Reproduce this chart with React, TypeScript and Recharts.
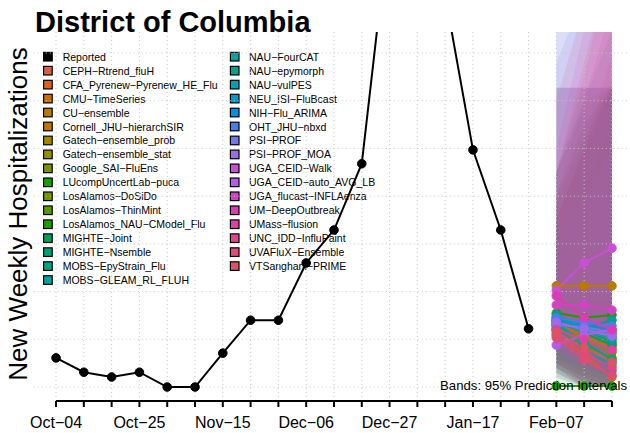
import React from 'react';
import { ComposedChart, Line, Area, XAxis, YAxis, ReferenceLine } from 'recharts';

const FONT = '"Liberation Sans", Arial, Helvetica, sans-serif';

const weeks = [
  'Oct−04', 'Oct−11', 'Oct−18', 'Oct−25', 'Nov−01', 'Nov−08', 'Nov−15', 'Nov−22', 'Nov−29',
  'Dec−06', 'Dec−13', 'Dec−20', 'Dec−27', 'Jan−03', 'Jan−10', 'Jan−17', 'Jan−24', 'Jan−31',
  'Feb−07', 'Feb−14', 'Feb−21',
];

const reported = [16.1, 13.1, 12.1, 13.1, 10, 10, 17.1, 24, 24, 36, 42.9, 56.8, 107.7, 100, 92.1, 59.7, 42.9, 22.2];

const models = [
  'CEPH−Rtrend_fluH', 'CFA_Pyrenew−Pyrenew_HE_Flu', 'CMU−TimeSeries', 'CU−ensemble',
  'Cornell_JHU−hierarchSIR', 'Gatech−ensemble_prob', 'Gatech−ensemble_stat', 'Google_SAI−FluEns',
  'LUcompUncertLab−puca', 'LosAlamos−DoSiDo', 'LosAlamos−ThinMint', 'LosAlamos_NAU−CModel_Flu',
  'MIGHTE−Joint', 'MIGHTE−Nsemble', 'MOBS−EpyStrain_Flu', 'MOBS−GLEAM_RL_FLUH',
  'NAU−FourCAT', 'NAU−epymorph', 'NAU−vulPES', 'NEU_ISI−FluBcast',
  'NIH−Flu_ARIMA', 'OHT_JHU−nbxd', 'PSI−PROF', 'PSI−PROF_MOA',
  'UGA_CEID−Walk', 'UGA_CEID−auto_AVG_LB', 'UGA_flucast−INFLAenza', 'UM−DeepOutbreak',
  'UMass−flusion', 'UNC_IDD−InfluPaint', 'UVAFluX−Ensemble', 'VTSanghani−PRIME',
];

const colors = [
  '#D95F4A', '#D5651E', '#C96F00', '#B97A00',
  '#C07500', '#A68400', '#949000', '#7E9300',
  '#17A000', '#6F9500', '#559A00', '#1E9C00',
  '#00A05A', '#00A16D', '#00A384', '#00A49C',
  '#00A3A3', '#009F8F', '#00A0B5', '#0097D5',
  '#008FE3', '#4A7DEB', '#7675EA', '#9B6BEA',
  '#C94FD6', '#B55BE5', '#D342C5', '#DA3DB3',
  '#DE41A2', '#E1468A', '#DF4C75', '#DB5463',
];

// forecast weeks: Feb-07, Feb-14, Feb-21
const median = [
  [22.0, 18.8, 15.2], [20.9, 16.7, 12.1], [23.0, 20.9, 18.8], [31.2, 31.2, 31.2],
  [24.0, 22.0, 19.9], [22.4, 20.3, 18.2], [23.6, 22.0, 20.3], [24.5, 22.8, 21.1],
  [10.2, 10.2, 10.2], [22.8, 19.9, 17.3], [22.0, 18.8, 16.1], [25.5, 24.5, 25.1],
  [24.0, 21.3, 18.8], [24.5, 22.0, 19.4], [23.0, 19.4, 15.7], [23.6, 18.8, 13.4],
  [22.0, 18.2, 14.6], [25.1, 22.4, 24.0], [23.6, 21.5, 20.3], [23.0, 22.4, 21.3],
  [24.0, 23.0, 22.0], [24.5, 23.6, 22.8], [23.0, 22.6, 21.3], [23.6, 22.0, 20.7],
  [30.3, 36.0, 39.1], [18.8, 20.9, 22.0], [27.2, 27.2, 26.1], [29.1, 24.5, 22.0],
  [22.0, 19.9, 17.8], [20.9, 17.3, 14.0], [20.3, 15.7, 12.5], [21.5, 18.2, 15.2],
];

const lower = [
  [14, 10, 10], [15, 11, 10], [16, 13, 11], [22, 18, 15],
  [14, 11, 10], [15, 12, 10], [16, 12, 10], [17, 13, 11],
  [10, 10, 10], [14, 11, 10], [13, 10, 10], [16, 14, 12],
  [15, 12, 10], [15, 12, 10], [14, 10, 10], [15, 11, 10],
  [13, 10, 10], [12, 10, 10], [16, 13, 11], [17, 14, 12],
  [14, 11, 10], [18, 16, 14], [18, 15, 13], [17, 14, 12],
  [20, 18, 16], [12, 10, 10], [18, 15, 12], [20, 15, 12],
  [15, 12, 10], [14, 10, 10], [13, 10, 10], [15, 11, 10],
];

const upper = [
  [45, 58, 72.7], [28, 28, 28], [40, 55, 70], [50, 62, 72.7],
  [72.7, 72.7, 72.7], [45, 60, 72.7], [48, 62, 72.7], [40, 52, 65],
  [55, 68, 72.7], [50, 65, 72.7], [55, 70, 72.7], [50, 65, 72.7],
  [45, 60, 72], [48, 62, 72.7], [42, 55, 68], [40, 50, 60],
  [55, 72.7, 72.7], [72.7, 72.7, 72.7], [55, 70, 85], [45, 60, 75],
  [88, 100, 120], [40, 50, 60], [78, 92, 110], [72.7, 72.7, 72.7],
  [86, 110, 150], [72.7, 72.7, 72.7], [60, 85, 110], [55, 75, 100],
  [50, 70, 90], [70, 90, 120], [45, 60, 80], [55, 78, 100],
];

const gridY = [10, 20, 30, 40, 50, 60, 70, 80];
const tickIdx = weeks.map((_, i) => i);
const FIRST_FC = 18;

const table = weeks.map((w, i) => {
  const row: any = { x: i, week: w };
  if (i < reported.length) row.reported = reported[i];
  const k = i - FIRST_FC;
  if (k >= 0) {
    models.forEach((m, j) => {
      row['m' + j] = median[j][k];
      row['b' + j] = [lower[j][k], upper[j][k]];
    });
  }
  return row;
});

const legendItems = [{ name: 'Reported', color: '#000000' }].concat(
  models.map((m, j) => ({ name: m, color: colors[j] }))
);

const Legend2 = () => {
  const col1 = legendItems.slice(0, 17);
  const col2 = legendItems.slice(17);
  const row = (it, i, sx, tx) => {
    const cy = 56.7 + i * 13.96;
    return (
      <g key={it.name}>
        <rect x={sx} y={cy - 4.3} width={8.6} height={8.6} fill={it.color} stroke="#000" strokeWidth={1.2} />
        <text x={tx} y={cy} dominantBaseline="central" fontSize={10.5} fill="#000" fontFamily={FONT}>{it.name}</text>
      </g>
    );
  };
  return (
    <g>
      {col1.map((it, i) => row(it, i, 43.6, 62.7))}
      {col2.map((it, i) => row(it, i, 230.4, 249))}
    </g>
  );
};

export default function App() {
  return (
    <div style={{ position: 'absolute', left: 0, top: 0, width: 630, height: 433, background: '#fff' }}>
      <svg width={630} height={433} style={{ position: 'absolute', left: 0, top: 0 }}>
        <text x={35} y={32} fontSize={29} fontWeight="bold" fontFamily={FONT} fill="#000">District of Columbia</text>
        <text transform="translate(27,214) rotate(-90)" textAnchor="middle" fontSize={26} fontFamily={FONT} fill="#000">
          New Weekly Hospitalizations
        </text>
        <Legend2 />
      </svg>
      <div style={{ position: 'absolute', left: 0, top: 0 }}>
        <ComposedChart width={630} height={433} data={table} margin={{ top: 32, right: 0, bottom: 2, left: 33.8 }}>
          <XAxis
            type="number"
            dataKey="x"
            domain={[-0.8, 20.65]}
            allowDataOverflow
            ticks={tickIdx}
            interval={0}
            tickFormatter={(v) => (v % 3 === 0 ? weeks[v] : '')}
            axisLine={false}
            tickLine={{ stroke: '#000', strokeWidth: 2 }}
            tickSize={6}
            tickMargin={10}
            tick={{ fill: '#000', fontSize: 16, fontFamily: FONT }}
            height={30}
          />
          <YAxis hide type="number" domain={[7.07, 84.4]} allowDataOverflow />
          {models.map((m, j) => (
            <Area
              key={'band' + j}
              type="linear"
              dataKey={'b' + j}
              fill={colors[j]}
              fillOpacity={0.12}
              stroke="none"
              dot={false}
              activeDot={false}
              isAnimationActive={false}
            />
          ))}
          {gridY.map((v) => (
            <ReferenceLine key={'gy' + v} y={v} stroke="#c8c8c8" strokeDasharray="1 3" />
          ))}
          {tickIdx.map((v) => (
            <ReferenceLine key={'gx' + v} x={v} stroke="#c8c8c8" strokeDasharray="1 3" />
          ))}
          <ReferenceLine segment={[{ x: 0, y: 7.07 }, { x: 20, y: 7.07 }]} stroke="#000" strokeWidth={2} />
          <Line
            type="linear"
            dataKey="reported"
            stroke="#000"
            strokeWidth={2}
            dot={{ r: 4.3, fill: '#000', stroke: '#000', strokeWidth: 1 }}
            activeDot={false}
            isAnimationActive={false}
          />
          {models.map((m, j) => (
            <Line
              key={'med' + j}
              type="linear"
              dataKey={'m' + j}
              stroke={colors[j]}
              strokeWidth={2}
              dot={{ r: 4.3, fill: colors[j], stroke: colors[j], strokeWidth: 1 }}
              activeDot={false}
              isAnimationActive={false}
            />
          ))}
        </ComposedChart>
      </div>
      <svg width={630} height={433} style={{ position: 'absolute', left: 0, top: 0, pointerEvents: 'none' }}>
        <text x={627} y={390} textAnchor="end" fontSize={13.2} fontFamily={FONT} fill="#000">
          Bands: 95% Prediction Intervals
        </text>
      </svg>
    </div>
  );
}
